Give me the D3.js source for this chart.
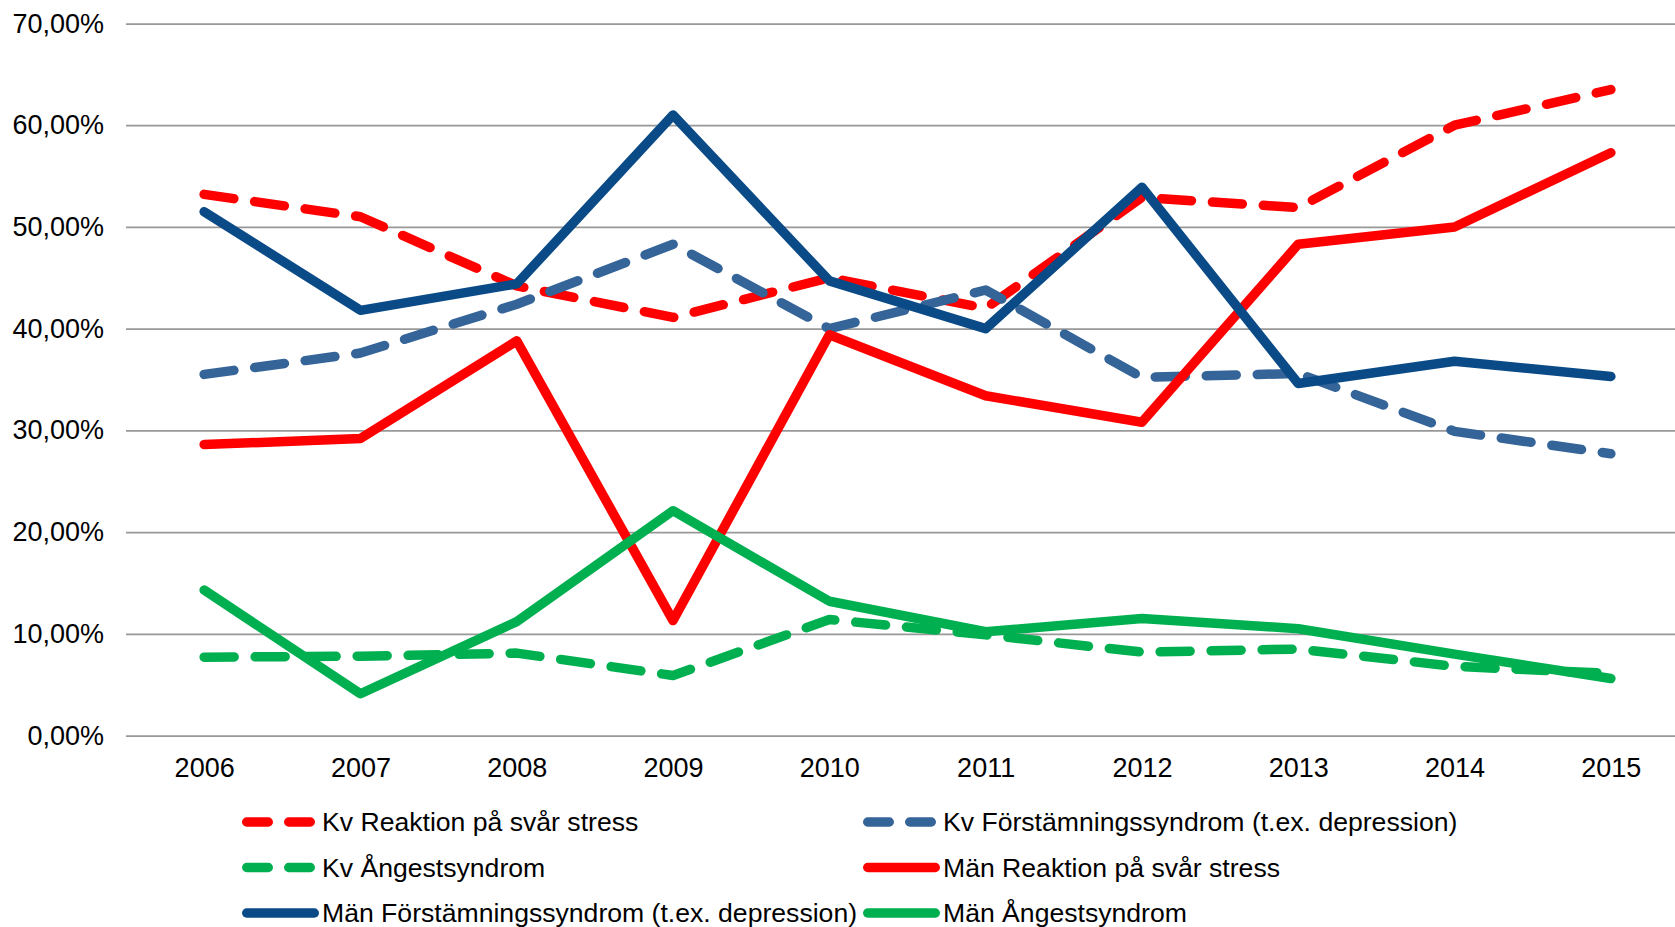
<!DOCTYPE html>
<html lang="sv">

<head>
    <meta charset="UTF-8">
    <title>Sjukskrivning diagnoser 2006-2015</title>
    <script src="https://d3js.org/d3.v7.min.js"></script>
    <style>
        body {
            margin: 0;
            background: #fff;
        }

        svg {
            display: block;
        }

        text {
            font-family: "Liberation Sans", Arial, sans-serif;
            font-size: 27px;
            fill: #000;
        }

        .legend text {
            font-size: 26.6px;
        }

        .grid line {
            stroke: #989898;
            stroke-width: 1.75;
        }
    </style>
</head>

<body>
    <script>
        // data, in percent
        const years = ["2006", "2007", "2008", "2009", "2010", "2011", "2012", "2013", "2014", "2015"]
        const kvReaktion = [53.2, 51.0, 44.2, 41.1, 45.0, 42.0, 52.9, 51.9, 60.0, 63.5]
        const kvForstamning = [35.5, 37.6, 42.4, 48.3, 40.0, 43.8, 35.2, 35.6, 29.9, 27.7]
        const kvAngest = [7.7, 7.8, 8.1, 5.9, 11.4, 9.9, 8.2, 8.5, 6.8, 6.1]
        const manReaktion = [28.6, 29.2, 38.8, 11.3, 39.4, 33.4, 30.8, 48.3, 50.0, 57.3]
        const manForstamning = [51.5, 41.8, 44.4, 61.0, 44.7, 40.0, 53.9, 34.6, 36.8, 35.3]
        const manAngest = [14.3, 4.1, 11.2, 22.1, 13.2, 10.2, 11.5, 10.5, 8.0, 5.6]
        const yTicks = [0, 10, 20, 30, 40, 50, 60, 70]

        const series = [
            { name: "Kv Reaktion på svår stress", values: kvReaktion, color: "#ff0000", dashed: true },
            { name: "Kv Förstämningssyndrom (t.ex. depression)", values: kvForstamning, color: "#346498", dashed: true },
            { name: "Kv Ångestsyndrom", values: kvAngest, color: "#00b050", dashed: true },
            { name: "Män Reaktion på svår stress", values: manReaktion, color: "#ff0000", dashed: false },
            { name: "Män Förstämningssyndrom (t.ex. depression)", values: manForstamning, color: "#0a4a87", dashed: false },
            { name: "Män Ångestsyndrom", values: manAngest, color: "#00b050", dashed: false }
        ]

        const width = 1675
        const height = 927
        const plotLeft = 126
        const step = 156.3
        const plotRight = plotLeft + step * years.length  // runs past the right edge, like the original
        const yTop = 23.5
        const yBottom = 735.5
        const lineW = 9.5

        const svg = d3.select("body").append("svg")
            .attr("width", width)
            .attr("height", height)

        const x = d3.scalePoint()
            .domain(years)
            .range([plotLeft, plotRight])
            .padding(0.5)

        const y = d3.scaleLinear()
            .domain([0, 70])
            .range([yBottom, yTop])

        const sv = d3.formatLocale({ decimal: ",", thousands: " ", grouping: [3], currency: ["", " kr"] })
        const pct = sv.format(".2%")

        // y axis + gridlines
        const gy = svg.append("g")
            .attr("class", "grid")
            .attr("transform", `translate(${plotLeft},0)`)
            .call(d3.axisLeft(y)
                .tickValues(yTicks)
                .tickSize(-(plotRight - plotLeft))
                .tickPadding(22)
                .tickFormat(d => pct(d / 100)))
        gy.select(".domain").remove()
        gy.selectAll("text").attr("font-size", null).attr("font-family", null)

        // x axis labels
        const gx = svg.append("g")
            .attr("transform", `translate(0,${yBottom})`)
            .call(d3.axisBottom(x).tickSize(0).tickPadding(22))
        gx.select(".domain").remove()
        gx.selectAll("text").attr("font-size", null).attr("font-family", null)

        const line = d3.line()
            .x((d, i) => x(years[i]))
            .y(d => y(d))

        svg.append("g").selectAll("path")
            .data(series)
            .enter()
            .append("path")
            .attr("d", d => line(d.values))
            .attr("fill", "none")
            .attr("stroke", d => d.color)
            .attr("stroke-width", lineW)
            .attr("stroke-linecap", "round")
            .attr("stroke-linejoin", "round")
            .attr("stroke-dasharray", d => d.dashed ? "30,21" : null)

        // legend, two columns, filled row by row
        const colX = [242, 863]
        const rowY = [822, 867.5, 913]

        const leg = svg.append("g").attr("class", "legend").selectAll("g")
            .data(series)
            .enter()
            .append("g")
            .attr("transform", (d, i) => `translate(${colX[i % 2]},${rowY[Math.floor(i / 2)]})`)

        leg.append("line")
            .attr("x1", lineW / 2)
            .attr("x2", d => (d.dashed ? 73 : 77) - lineW / 2)
            .attr("y1", 0)
            .attr("y2", 0)
            .attr("stroke", d => d.color)
            .attr("stroke-width", lineW)
            .attr("stroke-linecap", "round")
            .attr("stroke-dasharray", d => d.dashed ? "21.5,20.5" : null)

        leg.append("text")
            .attr("x", 80)
            .attr("dy", "0.35em")
            .text(d => d.name)
    </script>
</body>

</html>
